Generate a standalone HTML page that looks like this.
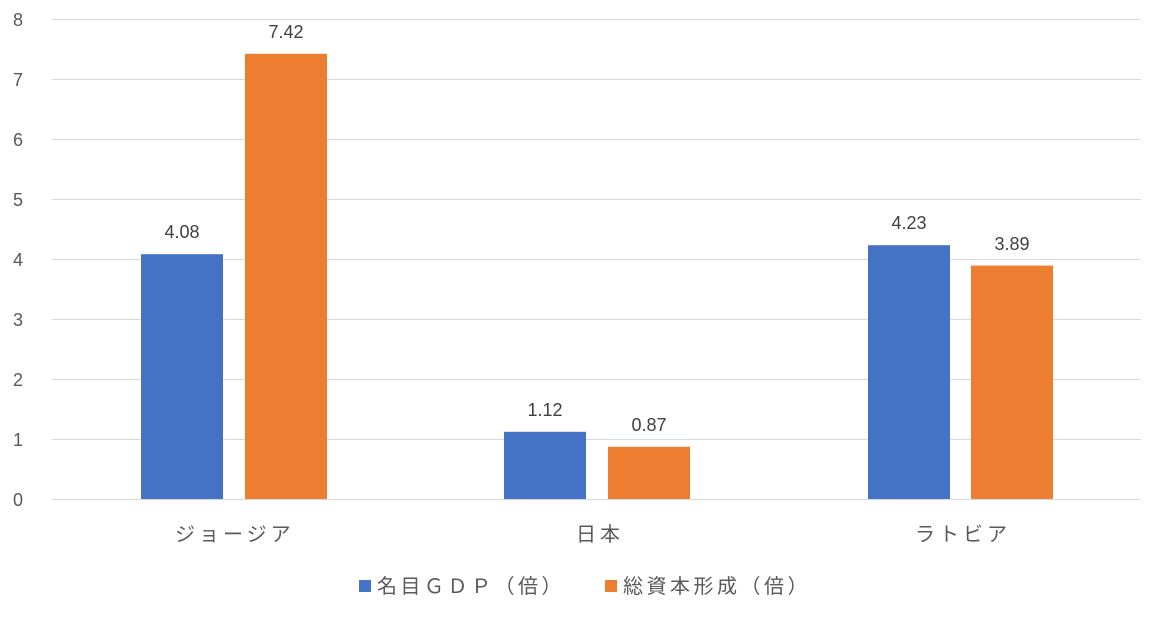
<!DOCTYPE html>
<html><head><meta charset="utf-8"><style>
body{margin:0;background:#fff;}
</style></head><body>
<svg width="1154" height="621" xmlns="http://www.w3.org/2000/svg" style="font-family:'Liberation Sans','Noto Sans CJK JP',sans-serif">
<rect width="1154" height="621" fill="#fff"/>
<g stroke="#d9d9d9" stroke-width="1">
<line x1="52" x2="1141" y1="19.5" y2="19.5"/>
<line x1="52" x2="1141" y1="79.5" y2="79.5"/>
<line x1="52" x2="1141" y1="139.5" y2="139.5"/>
<line x1="52" x2="1141" y1="199.5" y2="199.5"/>
<line x1="52" x2="1141" y1="259.5" y2="259.5"/>
<line x1="52" x2="1141" y1="319.5" y2="319.5"/>
<line x1="52" x2="1141" y1="379.5" y2="379.5"/>
<line x1="52" x2="1141" y1="439.5" y2="439.5"/>
<line x1="52" x2="1141" y1="499.5" y2="499.5"/>
</g>
<g font-size="18" fill="#595959" text-anchor="middle">
<text x="18" y="26">8</text><text x="18" y="86">7</text><text x="18" y="146">6</text>
<text x="18" y="206">5</text><text x="18" y="266">4</text><text x="18" y="326">3</text>
<text x="18" y="386">2</text><text x="18" y="446">1</text><text x="18" y="506">0</text>
</g>
<g fill="#4472c4">
<rect x="141" y="254.2" width="82" height="244.8"/>
<rect x="504" y="431.8" width="82" height="67.2"/>
<rect x="868" y="245.2" width="82" height="253.8"/>
</g>
<g fill="#ed7d31">
<rect x="245" y="53.8" width="82" height="445.2"/>
<rect x="608" y="446.8" width="82" height="52.2"/>
<rect x="971" y="265.6" width="82" height="233.4"/>
</g>
<g font-size="18" fill="#404040" text-anchor="middle">
<text x="182" y="238">4.08</text>
<text x="286" y="38">7.42</text>
<text x="545" y="416">1.12</text>
<text x="649" y="431">0.87</text>
<text x="909" y="229">4.23</text>
<text x="1012" y="250">3.89</text>
</g>
<g font-size="20" fill="#595959">
<text x="175" y="541" letter-spacing="4">ジョージア</text>
<text x="576" y="541" letter-spacing="4">日本</text>
<text x="915" y="541" letter-spacing="4">ラトビア</text>
</g>
<rect x="359" y="580" width="12" height="12" fill="#4472c4"/>
<text x="377" y="593" font-size="20" fill="#595959" letter-spacing="3.5">名目ＧＤＰ（倍）</text>
<rect x="605" y="580" width="12" height="12" fill="#ed7d31"/>
<text x="623" y="593" font-size="20" fill="#595959" letter-spacing="3.5">総資本形成（倍）</text>
</svg>
</body></html>
